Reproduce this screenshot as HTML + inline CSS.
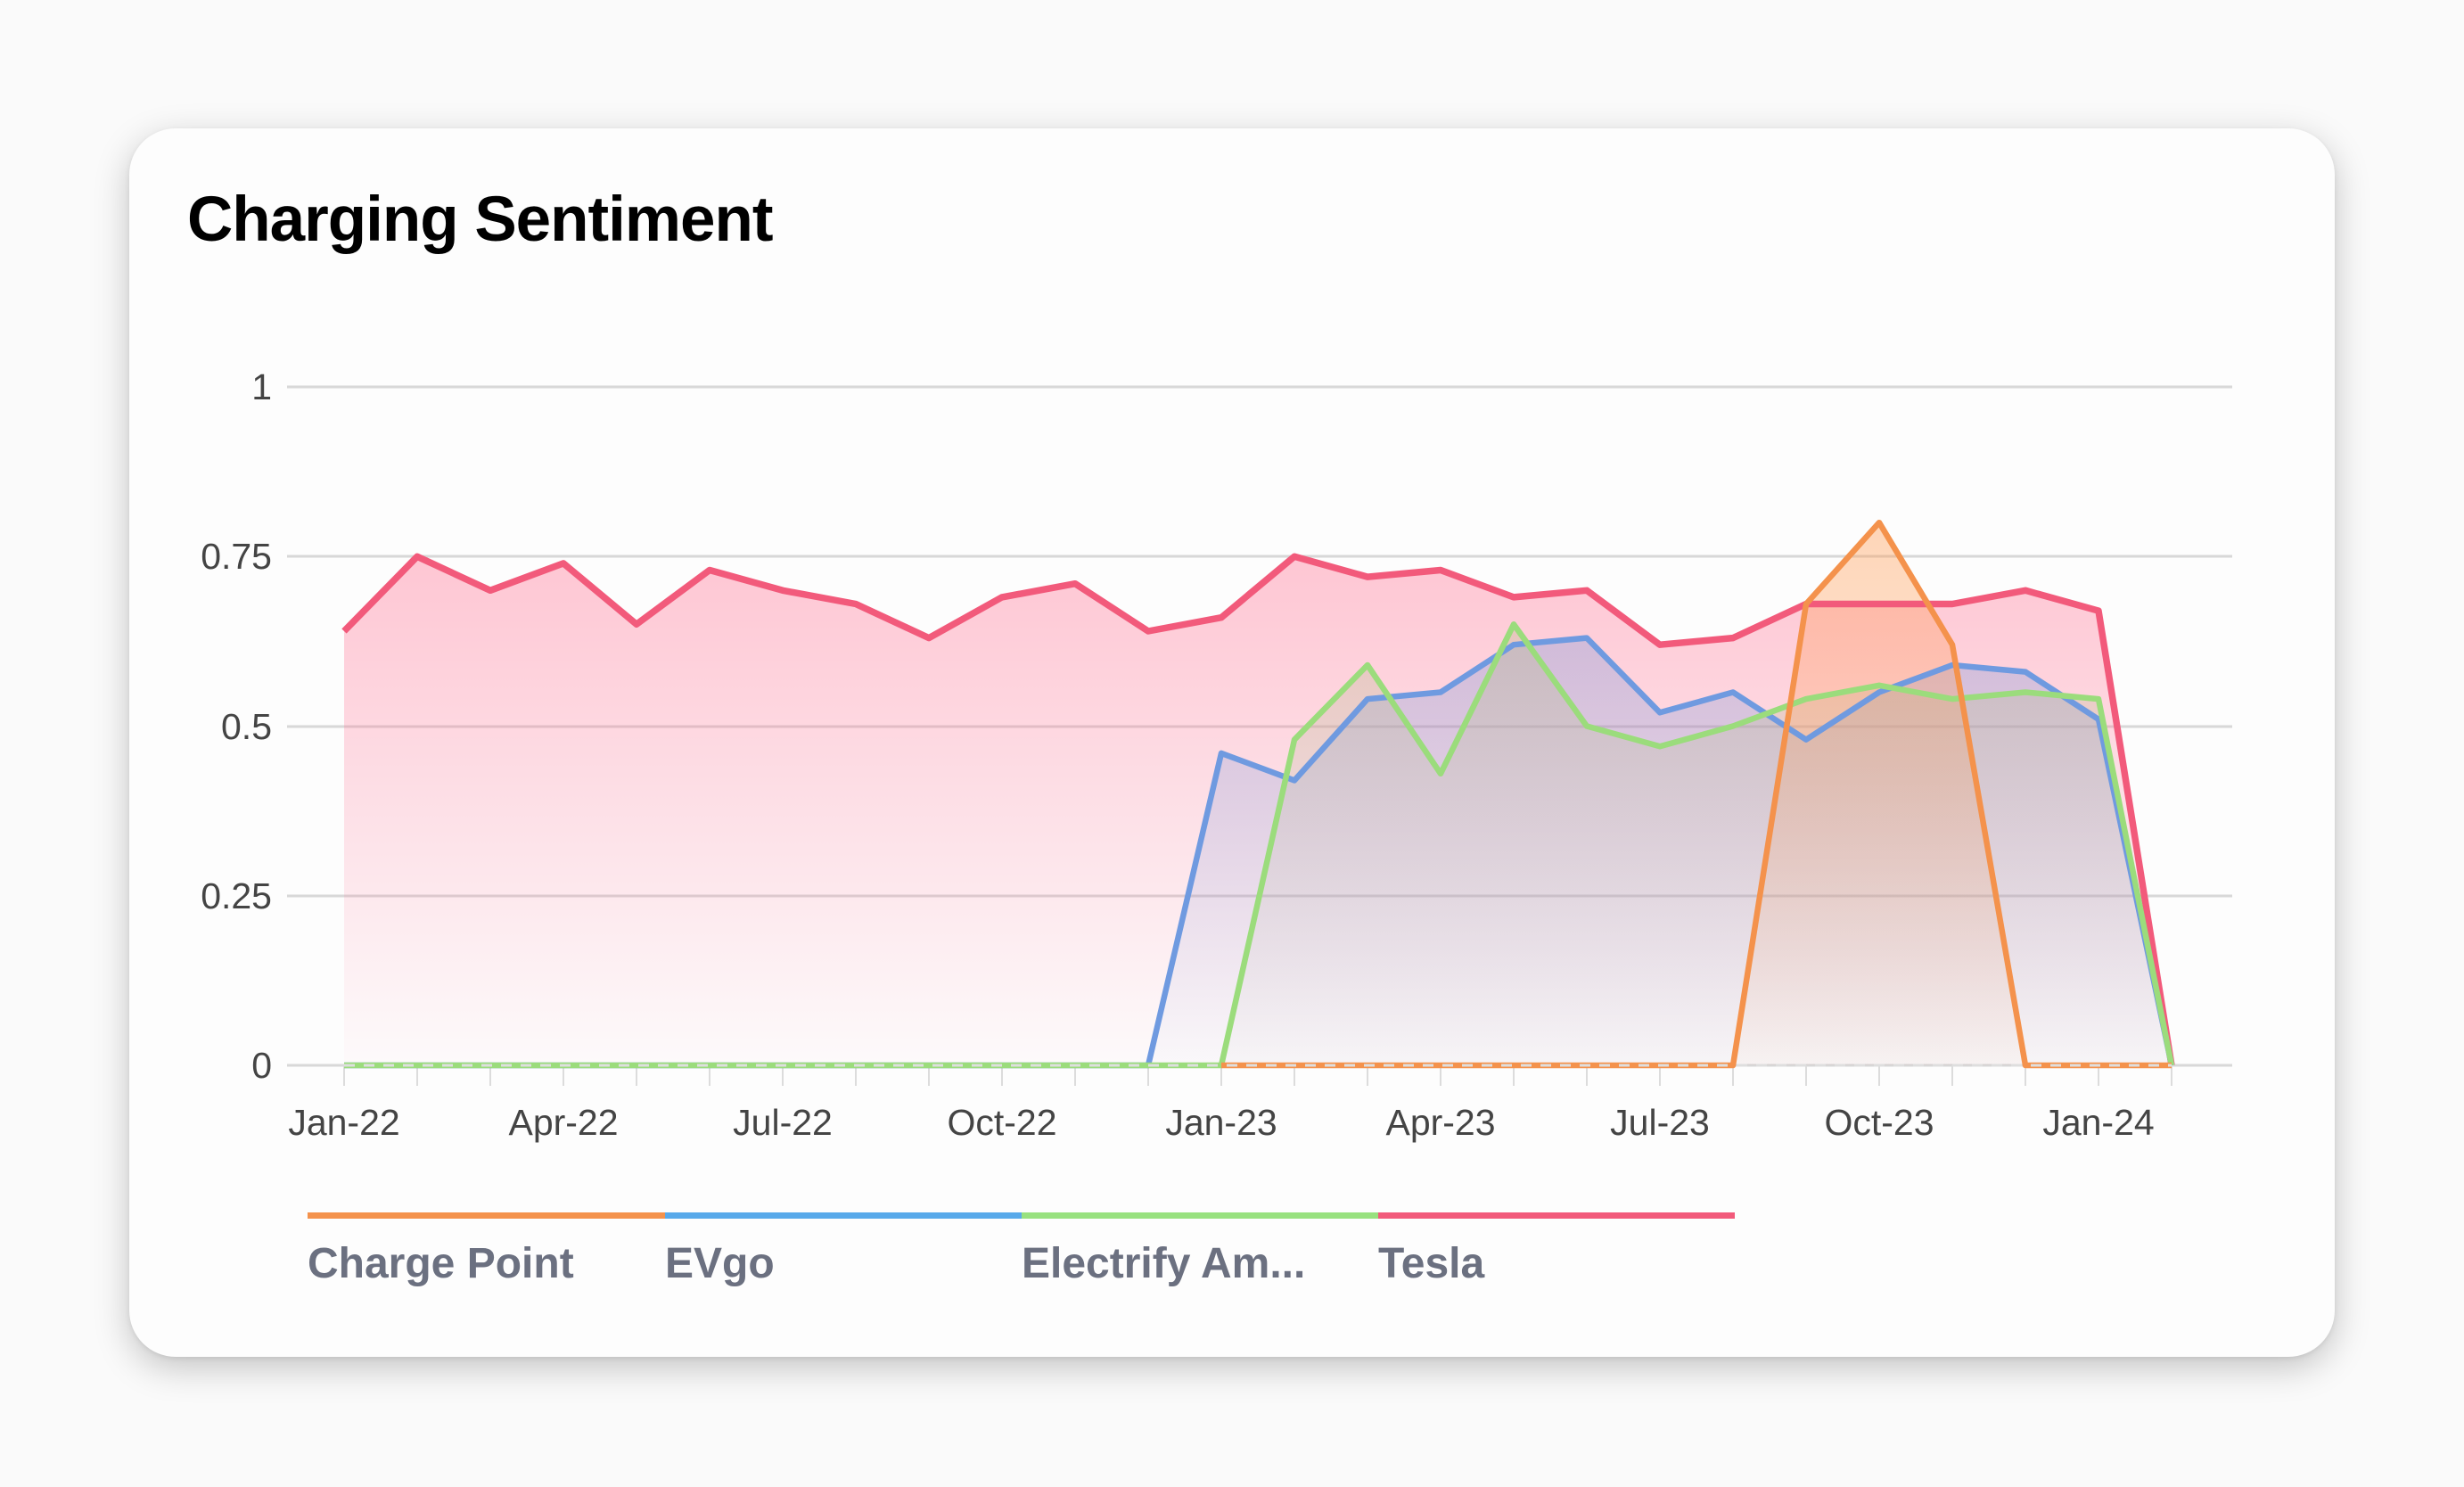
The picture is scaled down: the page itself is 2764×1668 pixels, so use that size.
<!DOCTYPE html>
<html><head><meta charset="utf-8"><style>
html,body{margin:0;padding:0;background:#fafafa;}
body{width:2764px;height:1668px;position:relative;overflow:hidden;font-family:"Liberation Sans",Arial,sans-serif;}
.card{position:absolute;left:145px;top:144px;width:2474px;height:1378px;background:#fdfdfd;border-radius:52px;box-shadow:0 12px 40px rgba(0,0,0,0.22),0 2px 6px rgba(0,0,0,0.08);}
svg{position:absolute;left:0;top:0;}
</style></head><body>
<div class="card"></div>
<svg width="2764" height="1668" viewBox="0 0 2764 1668" xmlns="http://www.w3.org/2000/svg" font-family="Liberation Sans, Arial, sans-serif">
<defs>
<linearGradient id="gTesla" gradientUnits="userSpaceOnUse" x1="0" y1="620" x2="0" y2="1195"><stop offset="0" stop-color="#ff6b8e" stop-opacity="0.38"/><stop offset="1" stop-color="#ff6b8e" stop-opacity="0.02"/></linearGradient>
<linearGradient id="gEV" gradientUnits="userSpaceOnUse" x1="0" y1="720" x2="0" y2="1195"><stop offset="0" stop-color="#6a8fd8" stop-opacity="0.3"/><stop offset="1" stop-color="#6a8fd8" stop-opacity="0.02"/></linearGradient>
<linearGradient id="gEA" gradientUnits="userSpaceOnUse" x1="0" y1="700" x2="0" y2="1195"><stop offset="0" stop-color="#b9b98a" stop-opacity="0.35"/><stop offset="1" stop-color="#c0c0c0" stop-opacity="0.05"/></linearGradient>
<linearGradient id="gCP" gradientUnits="userSpaceOnUse" x1="0" y1="585" x2="0" y2="1195"><stop offset="0" stop-color="#ff9a50" stop-opacity="0.4"/><stop offset="1" stop-color="#ff9a50" stop-opacity="0.03"/></linearGradient>
</defs>
<text x="210" y="270" font-size="71" font-weight="bold" fill="#000" letter-spacing="-1">Charging Sentiment</text>
<g stroke="#d8d8d8" stroke-width="3">
<line x1="322" y1="434" x2="2504" y2="434"/>
<line x1="322" y1="624" x2="2504" y2="624"/>
<line x1="322" y1="815" x2="2504" y2="815"/>
<line x1="322" y1="1005" x2="2504" y2="1005"/>
<line x1="322" y1="1195" x2="2504" y2="1195"/>
</g>
<g font-size="41" fill="#444" text-anchor="end">
<text x="305" y="448">1</text>
<text x="305" y="638">0.75</text>
<text x="305" y="829">0.5</text>
<text x="305" y="1019">0.25</text>
<text x="305" y="1209">0</text>
</g>
<g stroke="#dcdcdc" stroke-width="2" id="ticks"></g>
<g font-size="41" fill="#444" text-anchor="middle">
<text x="386" y="1273">Jan-22</text>
<text x="632" y="1273">Apr-22</text>
<text x="878" y="1273">Jul-22</text>
<text x="1124" y="1273">Oct-22</text>
<text x="1370" y="1273">Jan-23</text>
<text x="1616" y="1273">Apr-23</text>
<text x="1862" y="1273">Jul-23</text>
<text x="2108" y="1273">Oct-23</text>
<text x="2354" y="1273">Jan-24</text>
</g>
<g id="series"></g>
<g>
<rect x="345" y="1360" width="401" height="7" fill="#f4924c"/>
<rect x="746" y="1360" width="400" height="7" fill="#58a9ea"/>
<rect x="1146" y="1360" width="400" height="7" fill="#98e17f"/>
<rect x="1546" y="1360" width="400" height="7" fill="#f25a7b"/>
</g>
<g font-size="48" font-weight="bold" fill="#6b7080">
<text x="345" y="1433">Charge Point</text>
<text x="746" y="1433">EVgo</text>
<text x="1146" y="1433">Electrify Am...</text>
<text x="1546" y="1433">Tesla</text>
</g>
</svg>
<script>
(function(){
var NS="http://www.w3.org/2000/svg";
function X(i){return 386+i*82.0;}
function Y(v){return 1195-v*761;}
var t=document.getElementById("ticks");
for(var i=0;i<26;i++){var l=document.createElementNS(NS,"line");l.setAttribute("x1",X(i));l.setAttribute("x2",X(i));l.setAttribute("y1",1195);l.setAttribute("y2",1218);t.appendChild(l);}
var N=null;
var tesla=[.64,.75,.70,.74,.65,.73,.70,.68,.63,.69,.71,.64,.66,.75,.72,.73,.69,.70,.62,.63,.68,.68,.68,.70,.67,0];
var ev=[0,0,0,0,0,0,0,0,0,0,0,0,.46,.42,.54,.55,.62,.63,.52,.55,.48,.55,.59,.58,.51,0];
var ea=[0,0,0,0,0,0,0,0,0,0,0,0,0,.48,.59,.43,.65,.50,.47,.50,.54,.56,.54,.55,.54,0];
var cp=[N,N,N,N,N,N,N,N,N,N,N,N,0,0,0,0,0,0,0,0,.68,.80,.62,0,0,0];
var S=[[tesla,"#f25a7b","url(#gTesla)",7.5],[ev,"#6f9ae0","url(#gEV)",6.5],[ea,"#9bdc7c","url(#gEA)",6.5],[cp,"#f4924c","url(#gCP)",6.5]];
var g=document.getElementById("series");
function pts(s){var r=[],f=-1;s.forEach(function(v,i){if(v===null)return;if(f<0)f=i;r.push(X(i).toFixed(1)+","+Y(v).toFixed(1));});return [r,f];}
S.forEach(function(s){
 var p=pts(s[0]);
 var a=document.createElementNS(NS,"polygon");
 a.setAttribute("points",p[0].join(" ")+" "+X(25)+",1195 "+X(p[1])+",1195");
 a.setAttribute("fill",s[2]);g.appendChild(a);
});
S.forEach(function(s){
 var p=pts(s[0]);
 var l=document.createElementNS(NS,"polyline");
 l.setAttribute("points",p[0].join(" "));l.setAttribute("fill","none");
 l.setAttribute("stroke",s[1]);l.setAttribute("stroke-width",s[3]);l.setAttribute("stroke-linejoin","round");
 g.appendChild(l);
});
var d=document.createElementNS(NS,"line");
d.setAttribute("x1",X(0));d.setAttribute("x2",X(25));d.setAttribute("y1",1195);d.setAttribute("y2",1195);
d.setAttribute("stroke","#dedede");d.setAttribute("stroke-width","3");d.setAttribute("stroke-dasharray","12 10");
g.appendChild(d);
})();
</script>
</body></html>
